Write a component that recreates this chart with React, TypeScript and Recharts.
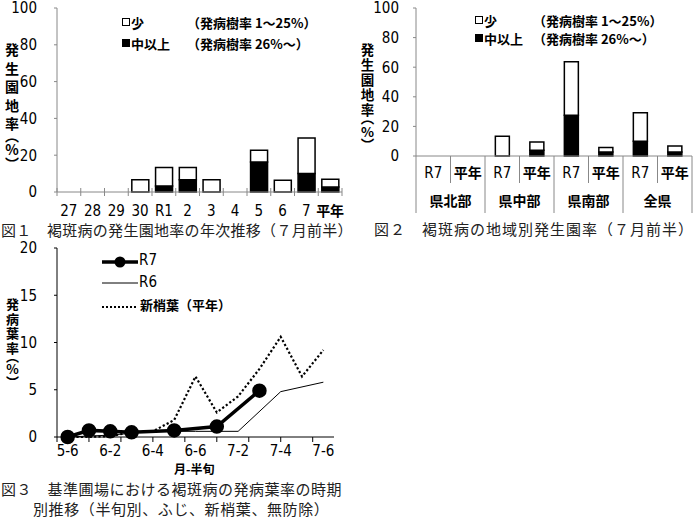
import React from 'react'
import { BarChart, Bar, LineChart, Line, XAxis, YAxis } from 'recharts'

// 図1 年次推移
const years = ['27', '28', '29', '30', 'R1', '2', '3', '4', '5', '6', '7', '平年']
const yearHeavy = [0, 0, 0, 0, 3.3, 6.7, 0, 0, 16.3, 0, 10, 2.7]
const yearLight = [0, 0, 0, 6.7, 10, 6.6, 6.7, 0, 6.4, 6.4, 19.4, 4.2]

// 図2 地域別
const regionBars = ['R7', '平年', 'R7', '平年', 'R7', '平年', 'R7', '平年']
const regions = ['県北部', '県中部', '県南部', '全県']
const regionHeavy = [0, 0, 0, 3.9, 27.6, 2.7, 10, 2.7]
const regionLight = [0, 0, 13.4, 5.6, 36.1, 3.0, 19.2, 4.1]

// 図3 時期別推移
const halfTerms = ['5-6', '6-1', '6-2', '6-3', '6-4', '6-5', '6-6', '7-1', '7-2', '7-3', '7-4', '7-5', '7-6']
const r7 = [0.0, 0.7, 0.6, 0.5, null, 0.7, null, 1.1, null, 4.9, null, null, null]
const r6 = [0.0, null, 0.2, null, 0.6, null, 0.6, null, 0.6, null, 4.8, null, 5.8]
const normal = [0.0, 0.0, 0.1, 0.5, 0.6, 1.8, 6.4, 2.6, 4.3, 7.2, 10.6, 6.4, 9.2]

const yTicks1 = [0, 20, 40, 60, 80, 100]
const yTicks3 = [0, 5, 10, 15, 20]

const NUM_FONT = '"Liberation Sans Narrow", "DejaVu Sans Condensed", "Noto Sans CJK JP", sans-serif'
const CJK_FONT = '"Noto Sans CJK JP", sans-serif'
const GRAY = '#888'

const yearData = years.map((y, i) => ({ name: y, heavy: yearHeavy[i], light: yearLight[i] }))
const regionData = regionBars.map((b, i) => ({ name: b, heavy: regionHeavy[i], light: regionLight[i] }))
const seasonData = halfTerms.map((t, i) => ({ name: t, r7: r7[i], r6: r6[i], normal: normal[i] }))

const isCJK = (s: string) => /[^\x00-\x7f]/.test(s)

// chart 1 geometry
const C1_AXIS_Y = 192
const C1_BAND = 285 / years.length

function YearTick(props: any) {
  const { x, index, payload } = props
  const left = x - C1_BAND / 2
  const label = payload.value
  return (
    <g>
      <line x1={left} x2={left} y1={C1_AXIS_Y - 4} y2={C1_AXIS_Y + 4} stroke={GRAY} />
      {index === years.length - 1 && (
        <line x1={x + C1_BAND / 2} x2={x + C1_BAND / 2} y1={C1_AXIS_Y - 4} y2={C1_AXIS_Y + 4} stroke={GRAY} />
      )}
      <text x={x} y={C1_AXIS_Y + 24} textAnchor="middle" fontSize={isCJK(label) ? 14 : 15}
        fontWeight={isCJK(label) ? 'bold' : 'normal'} fontFamily={isCJK(label) ? CJK_FONT : NUM_FONT} fill="#000">
        {label}
      </text>
    </g>
  )
}

// chart 2 geometry
const C2_AXIS_Y = 156
const C2_BAND = 276 / regionBars.length

function RegionTick(props: any) {
  const { x, index, payload } = props
  const left = x - C2_BAND / 2
  const label = payload.value
  const groupStart = index % 2 === 0
  return (
    <g>
      <line x1={left} x2={left} y1={C2_AXIS_Y} y2={C2_AXIS_Y + (groupStart ? 57 : 27)} stroke={GRAY} />
      {index === regionBars.length - 1 && (
        <line x1={x + C2_BAND / 2} x2={x + C2_BAND / 2} y1={C2_AXIS_Y} y2={C2_AXIS_Y + 57} stroke={GRAY} />
      )}
      <text x={x} y={C2_AXIS_Y + 22} textAnchor="middle" fontSize={isCJK(label) ? 14 : 15}
        fontWeight={isCJK(label) ? 'bold' : 'normal'} fontFamily={isCJK(label) ? CJK_FONT : NUM_FONT} fill="#000">
        {label}
      </text>
      {index % 2 === 1 && (
        <text x={left} y={C2_AXIS_Y + 50} textAnchor="middle" fontSize={14} fontWeight="bold"
          fontFamily={CJK_FONT} fill="#000">
          {regions[(index - 1) / 2]}
        </text>
      )}
    </g>
  )
}

// chart 3 geometry
const C3_AXIS_Y = 197
const C3_BAND = 277 / halfTerms.length

function TermTick(props: any) {
  const { x, index, payload } = props
  const marks: number[] = []
  if (index === 0) {
    const start = x - C3_BAND / 2
    for (let k = 0; start + 1.5 * C3_BAND * k < start + 270; k++) marks.push(start + 1.5 * C3_BAND * k)
  }
  return (
    <g>
      {marks.map((m, i) => (
        <line key={i} x1={m} x2={m} y1={C3_AXIS_Y} y2={C3_AXIS_Y + 5} stroke="#000" />
      ))}
      {index % 2 === 0 && (
        <text x={x} y={C3_AXIS_Y + 19} textAnchor="middle" fontSize={15} fontFamily={NUM_FONT} fill="#000">
          {payload.value}
        </text>
      )}
    </g>
  )
}

const numTick = { fontSize: 15, fontFamily: NUM_FONT, fill: '#000' }

// vertical axis title; brackets use the half-width vertical forms
function VLabel({ word, left, top, size, spacing }: { word: string; left: number; top: number; size: number; spacing: number }) {
  return (
    <div style={{ position: 'absolute', left, top, writingMode: 'vertical-rl', textOrientation: 'upright',
      fontFamily: CJK_FONT, fontWeight: 'bold', fontSize: size, lineHeight: 1, color: '#000', whiteSpace: 'nowrap' }}>
      <span style={{ letterSpacing: spacing }}>{word}</span>
      <span style={{ fontFeatureSettings: '"vhal" 1' }}>（</span>%<span style={{ fontFeatureSettings: '"vhal" 1' }}>）</span>
    </div>
  )
}

function BarLegend({ left, top, gap, parenX }: { left: number; top: number; gap: number; parenX: number }) {
  const row = (filled: boolean, name: string, note: string, y: number) => (
    <div style={{ position: 'absolute', left, top: y, height: 16, display: 'flex', alignItems: 'center',
      fontFamily: CJK_FONT, fontWeight: 'bold', fontSize: 13, color: '#000', whiteSpace: 'nowrap' }}>
      <span style={{ display: 'inline-block', width: 6, height: 6, border: '1.5px solid #000',
        background: filled ? '#000' : '#fff', marginRight: 1 }} />
      <span>{name}</span>
      <span style={{ position: 'absolute', left: parenX - left }}>{note}</span>
    </div>
  )
  return (
    <>
      {row(false, '少', '（発病樹率 1～25%）', top)}
      {row(true, '中以上', '（発病樹率 26%～）', top + gap)}
    </>
  )
}

const caption: React.CSSProperties = {
  position: 'absolute', fontFamily: CJK_FONT, fontSize: 15, color: '#222', whiteSpace: 'nowrap', lineHeight: 1
}

export default function App() {
  return (
    <div style={{ position: 'absolute', left: 0, top: 0, width: 700, height: 518, background: '#fff', overflow: 'hidden' }}>
      {/* 図1 */}
      <div style={{ position: 'absolute', left: 0, top: 0 }}>
        <BarChart width={350} height={240} data={yearData} margin={{ top: 8, right: 8, left: 0, bottom: 18 }}
          barCategoryGap="15%">
          <XAxis dataKey="name" height={30} interval={0} tickLine={false} stroke={GRAY} tick={<YearTick />} />
          <YAxis width={57} domain={[0, 100]} ticks={yTicks1} interval={0} stroke={GRAY} tickSize={3} tickMargin={17}
            tick={numTick} />
          <Bar dataKey="heavy" stackId="a" fill="#000" stroke="#000" strokeWidth={1.5} isAnimationActive={false} />
          <Bar dataKey="light" stackId="a" fill="#fff" stroke="#000" strokeWidth={1.5} isAnimationActive={false} />
        </BarChart>
      </div>
      <VLabel word="発生園地率" left={5} top={43} size={14} spacing={4.5} />
      <BarLegend left={122} top={14} gap={21} parenX={187} />
      <div style={{ ...caption, left: 1, top: 222, letterSpacing: 0.3 }}>図１　褐斑病の発生園地率の年次推移（７月前半）</div>

      {/* 図2 */}
      <div style={{ position: 'absolute', left: 350, top: 0 }}>
        <BarChart width={350} height={240} data={regionData} margin={{ top: 8, right: 8, left: 0, bottom: 14 }}
          barCategoryGap="30%">
          <XAxis dataKey="name" height={70} interval={0} tickLine={false} stroke={GRAY} tick={<RegionTick />} />
          <YAxis width={66} domain={[0, 100]} ticks={yTicks1} interval={0} stroke={GRAY} tickSize={3} tickMargin={14}
            tick={numTick} />
          <Bar dataKey="heavy" stackId="a" fill="#000" stroke="#000" strokeWidth={1.5} isAnimationActive={false} />
          <Bar dataKey="light" stackId="a" fill="#fff" stroke="#000" strokeWidth={1.5} isAnimationActive={false} />
        </BarChart>
      </div>
      <VLabel word="発生園地率" left={360} top={43} size={13.5} spacing={1.5} />
      <BarLegend left={475} top={12} gap={18} parenX={533} />
      <div style={{ ...caption, left: 374, top: 221, letterSpacing: 1 }}>図２　褐斑病の地域別発生園率（７月前半）</div>

      {/* 図3 */}
      <div style={{ position: 'absolute', left: 0, top: 240 }}>
        <LineChart width={350} height={280} data={seasonData} margin={{ top: 8, right: 16, left: 0, bottom: 53 }}>
          <XAxis dataKey="name" height={30} interval={0} tickLine={false} stroke="#000" tick={<TermTick />}
            padding={{ left: C3_BAND / 2, right: C3_BAND / 2 }} />
          <YAxis width={57} domain={[0, 20]} ticks={yTicks3} interval={0} stroke="#000" tickSize={3} tickMargin={17}
            tick={numTick} />
          <Line dataKey="normal" stroke="#000" strokeWidth={2.2} strokeDasharray="2.2 2.2" dot={false}
            connectNulls isAnimationActive={false} />
          <Line dataKey="r6" stroke="#000" strokeWidth={1} dot={false} connectNulls isAnimationActive={false} />
          <Line dataKey="r7" stroke="#000" strokeWidth={3.5} dot={{ r: 5.5, fill: '#000', stroke: '#000' }}
            connectNulls isAnimationActive={false} />
        </LineChart>
      </div>
      <svg style={{ position: 'absolute', left: 95, top: 250 }} width={60} height={65}>
        <line x1={7} x2={43} y1={12} y2={12} stroke="#000" strokeWidth={3.5} />
        <circle cx={25} cy={12} r={5.5} fill="#000" />
        <line x1={7} x2={43} y1={33} y2={33} stroke="#000" strokeWidth={1} />
        <line x1={7} x2={43} y1={57} y2={57} stroke="#000" strokeWidth={2} strokeDasharray="2 2" />
      </svg>
      <div style={{ position: 'absolute', left: 139, top: 253, fontFamily: NUM_FONT, fontSize: 15, lineHeight: 1 }}>R7</div>
      <div style={{ position: 'absolute', left: 139, top: 275, fontFamily: NUM_FONT, fontSize: 15, lineHeight: 1 }}>R6</div>
      <div style={{ position: 'absolute', left: 140, top: 298, fontFamily: CJK_FONT, fontWeight: 'bold', fontSize: 13, lineHeight: 1 }}>
        新梢葉（平年）
      </div>
      <VLabel word="発病葉率" left={6} top={298} size={13} spacing={1.5} />
      <div style={{ position: 'absolute', left: 174, top: 463, fontFamily: CJK_FONT, fontWeight: 'bold', fontSize: 12, lineHeight: 1 }}>
        月-半旬
      </div>
      <div style={{ ...caption, left: 1, top: 479, lineHeight: '20px', letterSpacing: 0.5 }}>
        図３　基準圃場における褐斑病の発病葉率の時期<br />
        <span style={{ marginLeft: 32, letterSpacing: 0.6 }}>別推移（半旬別、ふじ、新梢葉、無防除）</span>
      </div>
    </div>
  )
}
